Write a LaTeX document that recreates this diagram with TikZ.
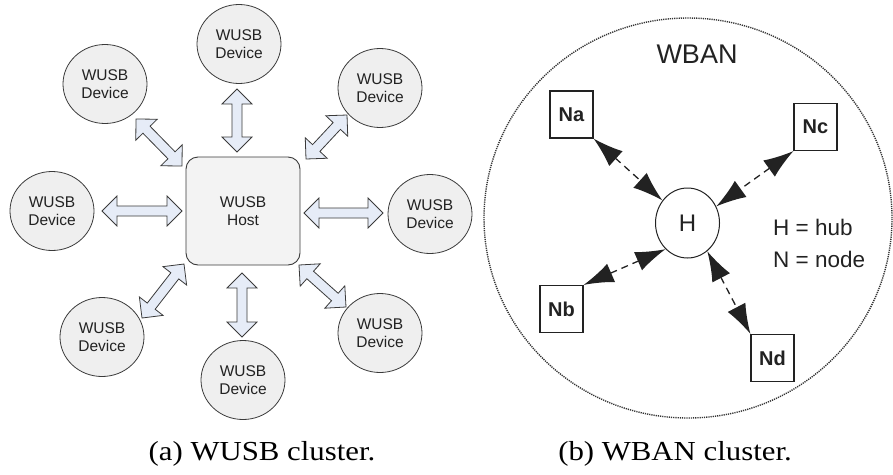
\documentclass[tikz,border=0pt]{standalone}
\usepackage{fontspec}
\setmainfont{Liberation Serif}
\newfontfamily\arial{Liberation Sans}
\usetikzlibrary{calc,shapes.geometric,arrows.meta}

\definecolor{devfill}{HTML}{EFEFEF}
\definecolor{hostfill}{HTML}{F3F3F3}
\definecolor{arrowfill}{HTML}{E6ECF7}
\definecolor{edge}{HTML}{3A3A3A}
\definecolor{ink}{HTML}{222222}

% block double arrow between two named tips
\newcommand\bahl{15pt}
\newcommand\bahw{15pt}
\newcommand\basw{5pt}
\newcommand\blockarrow[2]{%
  \coordinate (ba-a) at ($(#1)!\bahl!(#2)$);
  \coordinate (ba-b) at ($(#2)!\bahl!(#1)$);
  \draw[blockarrow] (#1) -- ($(ba-a)!\bahw!90:(#2)$) -- ($(ba-a)!\basw!90:(#2)$)
    -- ($(ba-b)!\basw!-90:(#1)$) -- ($(ba-b)!\bahw!-90:(#1)$) -- (#2)
    -- ($(ba-b)!\bahw!90:(#1)$) -- ($(ba-b)!\basw!90:(#1)$)
    -- ($(ba-a)!\basw!-90:(#2)$) -- ($(ba-a)!\bahw!-90:(#2)$) -- cycle;}

\tikzset{
  device/.style={ellipse, draw=edge, line width=0.8pt, fill=devfill,
    minimum width=84pt, minimum height=79pt, inner sep=0pt, align=center,
    text=ink, font=\arial\fontsize{15.5}{18}\selectfont},
  host/.style={rectangle, rounded corners=12pt, draw=edge, line width=0.9pt,
    fill=hostfill, minimum width=114pt, minimum height=108pt, align=center,
    text=ink, font=\arial\fontsize{15.5}{18}\selectfont},
  blockarrow/.style={draw=edge, line width=0.8pt, fill=arrowfill, line join=miter},
  bannode/.style={rectangle, draw=ink, line width=1.1pt, minimum width=43pt,
    minimum height=47pt, inner sep=0pt, text=ink,
    font=\arial\bfseries\fontsize{20}{22}\selectfont},
  hub/.style={ellipse, draw=ink, line width=1pt, minimum width=64pt,
    minimum height=70pt, inner sep=0pt, text=ink,
    font=\arial\fontsize{24}{26}\selectfont},
  link/.style={draw=ink, line width=1.3pt, dash pattern=on 7pt off 5pt,
    {Latex[length=30pt,width=20pt]}-{Latex[length=30pt,width=20pt]}},
  caption/.style={anchor=base, inner sep=0pt, transform shape,
    font=\fontsize{27.5}{30}\selectfont},
  legend/.style={anchor=base west, inner sep=0pt, text=ink,
    font=\arial\fontsize{22.5}{25}\selectfont}
}

\begin{document}
\begin{tikzpicture}[x=1pt,y=-1pt]
\useasboundingbox (0,0) rectangle (893,474);

% ---------- WUSB cluster ----------
\node[host] (host) at (243,211) {WUSB\\Host};
\node[device] (dT)  at (239,44)  {WUSB\\Device};
\node[device] (dTL) at (105,84)  {WUSB\\Device};
\node[device] (dTR) at (380,88)  {WUSB\\Device};
\node[device] (dL)  at (52,211)  {WUSB\\Device};
\node[device] (dR)  at (430,214) {WUSB\\Device};
\node[device] (dBL) at (102,337) {WUSB\\Device};
\node[device] (dB)  at (243,380) {WUSB\\Device};
\node[device] (dBR) at (380,333) {WUSB\\Device};

% arrow tips
\coordinate (aT1)  at (237,89);  \coordinate (aT2)  at (237,152);
\coordinate (aL1)  at (102,211); \coordinate (aL2)  at (182,211);
\coordinate (aR1)  at (304,213); \coordinate (aR2)  at (383,213);
\coordinate (aB1)  at (242,273); \coordinate (aB2)  at (242,337);
\coordinate (aTL1) at (136,119); \coordinate (aTL2) at (182,166);
\coordinate (aTR1) at (306,159); \coordinate (aTR2) at (347,115);
\coordinate (aBL1) at (142,318); \coordinate (aBL2) at (184,264);
\coordinate (aBR1) at (299,265); \coordinate (aBR2) at (346,307);

\blockarrow{aT1}{aT2}
\blockarrow{aL1}{aL2}
\blockarrow{aR1}{aR2}
\blockarrow{aB1}{aB2}
\blockarrow{aTL1}{aTL2}
\blockarrow{aTR1}{aTR2}
\blockarrow{aBL1}{aBL2}
\blockarrow{aBR1}{aBR2}

\begin{scope}[shift={(262,460)}, xscale=1.12]
  \node[caption] (capa) at (0,0) {(a) WUSB cluster.};
\end{scope}

% ---------- WBAN cluster ----------
\node[ellipse, draw=black!80, line width=1.4pt, dash pattern=on 1.2pt off 1pt,
  minimum width=408pt, minimum height=400pt, inner sep=0pt] (wban) at (688,218) {};
\node[anchor=base, inner sep=0pt, text=ink, font=\arial\fontsize{27}{30}\selectfont]
  (wbanlbl) at (697,63) {WBAN};

\node[hub] (H) at (687.5,223) {H};
\node[bannode] (Na) at (571.5,114.5) {Na};
\node[bannode] (Nc) at (815.5,127) {Nc};
\node[bannode] (Nb) at (561.5,309) {Nb};
\node[bannode] (Nd) at (772.5,358) {Nd};

\draw[link] (Na.south east) -- (H.138);
\draw[link] (Nc.south west) -- (H.30);
\draw[link] (Nb.north east) -- (H.230);
\draw[link] (H.305) -- (Nd.north west);

\node[legend] (leg1) at (773,235) {H = hub};
\node[legend] (leg2) at (773,267) {N = node};

\begin{scope}[shift={(675,460)}, xscale=1.12]
  \node[caption] (capb) at (0,0) {(b) WBAN cluster.};
\end{scope}
\end{tikzpicture}
\end{document}
